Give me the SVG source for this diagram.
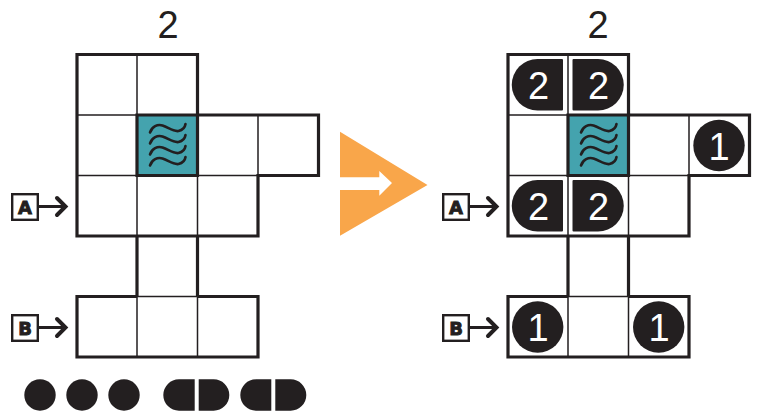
<svg xmlns="http://www.w3.org/2000/svg" width="762" height="412" viewBox="0 0 762 412">
<style>
.thin{fill:none;stroke:#231f20;stroke-width:1.5}
.thick{fill:none;stroke:#231f20;stroke-width:3.2;stroke-linejoin:miter}
.ink{fill:#231f20}
.teal{fill:#44a3ae}
.wave{fill:none;stroke:#231f20;stroke-width:2.6;stroke-linecap:round}
.num{font-family:"Liberation Sans",Arial,sans-serif;font-size:38px;text-anchor:middle;fill:#231f20}
.w{fill:#fff}
.lab{font-family:"DejaVu Sans","Liberation Sans",sans-serif;font-weight:bold;font-size:18px;text-anchor:middle;fill:#231f20;stroke:#231f20;stroke-width:.9}
.box{fill:#fff;stroke:#231f20;stroke-width:2.4}
.arr{fill:none;stroke:#231f20;stroke-width:3}
.arrh{fill:none;stroke:#231f20;stroke-width:4;stroke-linecap:round;stroke-linejoin:miter}
</style>
<defs>
<g id="waves">
<path id="w1" class="wave" d="M0.500 8.500C2.500 2.500 8 0 13 1.500C19 3.500 24 8 29 7C33 6 35.500 3.500 36 0"/>
<use href="#w1" y="11"/><use href="#w1" y="22"/><use href="#w1" y="33"/>
</g>
<g id="grid">
<rect class="teal" x="60" y="60.500" width="60.500" height="60.500"/>
<path class="thin" d="M60 0V60.500M0 60.500H60M0 121H60M60 121V181.500M120.500 121V181.500M120.500 121H181M181 60.500V121M60 242V302.500M120.500 242V302.500M60 242H120.500"/>
<path class="thick" d="M0 0H120.500V60.500H241.500V121H181V181.500H0ZM60 181.500V242M120.500 181.500V242M60 242H0V302.500H181V242H120.500"/>
<path class="thick" d="M60 60.500H120.500V121H60Z"/>
<use href="#waves" x="72.500" y="69.500"/>
</g>
<g id="arrowA">
<path class="arr" d="M27 13.500H52"/>
<path class="arrh" d="M46 5L54.500 13.500L46 22"/>
<rect class="box" x="1.200" y="1.200" width="25.600" height="25.600"/>
</g>
<path id="pillL" class="ink" d="M25.500 0H50A1 1 0 0 1 51 1V50.500A1 1 0 0 1 50 51.500H25.500A25.750 25.750 0 0 1 25.500 0Z"/>
<path id="pillR" class="ink" d="M25.500 0H1A1 1 0 0 0 0 1V50.500A1 1 0 0 0 1 51.500H25.500A25.750 25.750 0 0 0 25.500 0Z"/>
</defs>

<g id="left-puzzle">
<text class="num" x="168" y="37.500">2</text>
<use href="#grid" x="77" y="54.500"/>
<g id="left-clue-A"><use href="#arrowA" x="11" y="193"/><text class="lab" x="25" y="213.500">A</text></g>
<g id="left-clue-B"><use href="#arrowA" x="11" y="314"/><text class="lab" x="25" y="334.500">B</text></g>
</g>

<g id="supply">
<circle class="ink" cx="40" cy="395" r="15.700"/>
<circle class="ink" cx="82" cy="395" r="15.700"/>
<circle class="ink" cx="124" cy="395" r="15.700"/>
<path class="ink" d="M194.700 379.300H179A15.700 15.700 0 0 0 179 410.700H194.700Z"/>
<path class="ink" d="M198.700 379.300H213.600A15.700 15.700 0 0 1 213.600 410.700H198.700Z"/>
<path class="ink" d="M271.300 379.300H256A15.700 15.700 0 0 0 256 410.700H271.300Z"/>
<path class="ink" d="M275.300 379.300H290.600A15.700 15.700 0 0 1 290.600 410.700H275.300Z"/>
</g>

<g id="big-arrow">
<path fill="#f9a64a" d="M340 131.700L427.500 185L340 235.700V190H379.300V195.700L392 183L379.300 171V177.300H340Z"/>
</g>

<g id="right-puzzle">
<text class="num" x="598" y="37.500">2</text>
<use href="#grid" x="508" y="54.500"/>
<g id="right-clue-A"><use href="#arrowA" x="442" y="193"/><text class="lab" x="456" y="213.500">A</text></g>
<g id="right-clue-B"><use href="#arrowA" x="442" y="314"/><text class="lab" x="456" y="334.500">B</text></g>
<use href="#pillL" x="512" y="59"/>
<use href="#pillR" x="572.500" y="59"/>
<use href="#pillL" x="512" y="180"/>
<use href="#pillR" x="572.500" y="180"/>
<circle class="ink" cx="719" cy="145.500" r="25.700"/>
<circle class="ink" cx="537.700" cy="327" r="25.700"/>
<circle class="ink" cx="658.700" cy="327" r="25.700"/>
<text class="num w" x="538.500" y="99">2</text>
<text class="num w" x="598.500" y="99">2</text>
<text class="num w" x="538.500" y="220">2</text>
<text class="num w" x="598.500" y="220">2</text>
<text class="num w" x="719" y="159.500">1</text>
<text class="num w" x="538" y="341">1</text>
<text class="num w" x="659" y="341">1</text>
</g>
</svg>
